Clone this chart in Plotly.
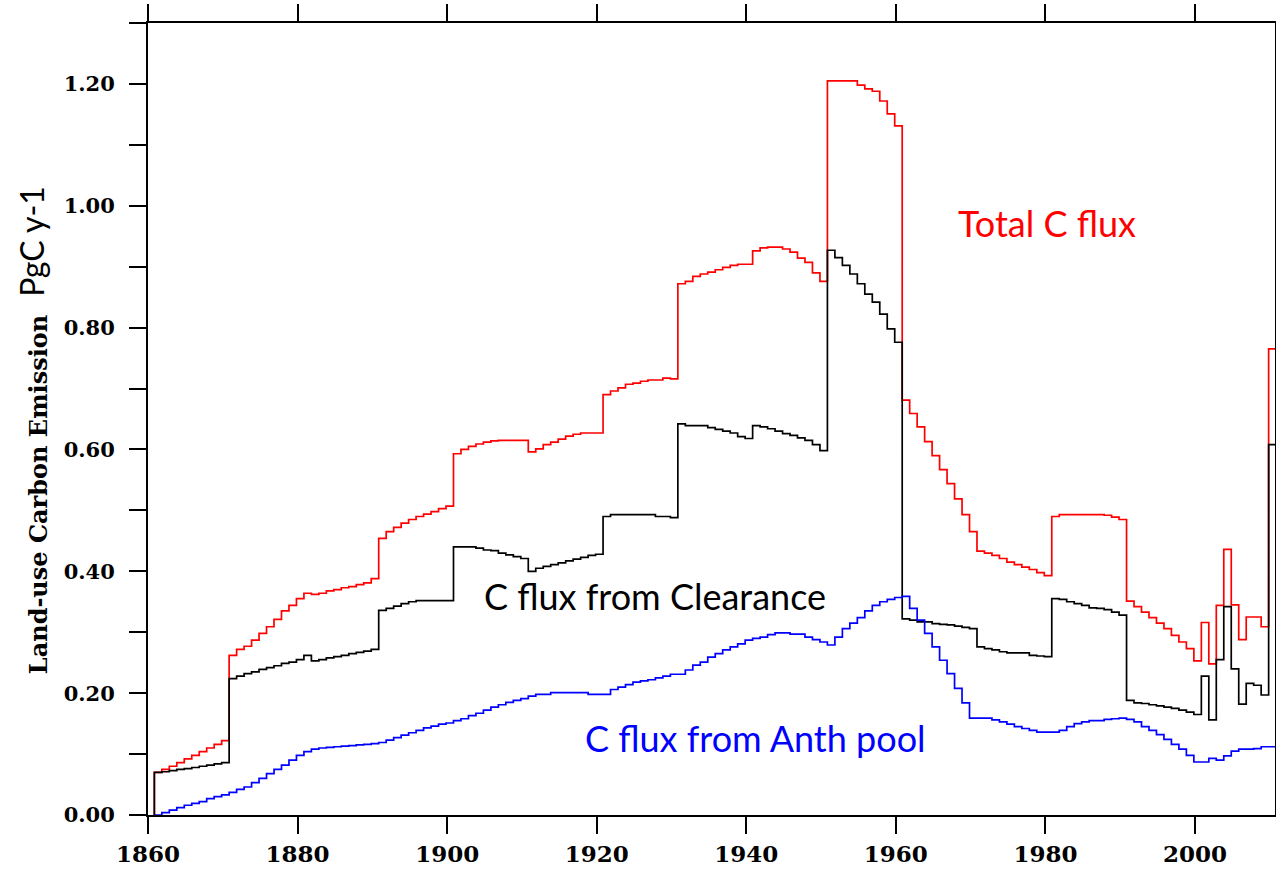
import plotly.graph_objects as go

years = list(range(1860, 2011))

total_flux = [
    0.000, 0.070, 0.075, 0.080, 0.086, 0.092, 0.098, 0.104, 0.110, 0.116,  # 1860-1869
    0.122, 0.262, 0.272, 0.277, 0.287, 0.298, 0.309, 0.321, 0.335, 0.344,  # 1870-1879
    0.355, 0.364, 0.362, 0.364, 0.368, 0.370, 0.373, 0.375, 0.378, 0.381,  # 1880-1889
    0.388, 0.454, 0.465, 0.472, 0.479, 0.485, 0.490, 0.494, 0.498, 0.503,  # 1890-1899
    0.507, 0.593, 0.600, 0.605, 0.609, 0.612, 0.614, 0.615, 0.615, 0.615,  # 1900-1909
    0.615, 0.596, 0.601, 0.608, 0.612, 0.617, 0.622, 0.625, 0.627, 0.627,  # 1910-1919
    0.627, 0.690, 0.696, 0.701, 0.707, 0.709, 0.712, 0.714, 0.714, 0.717,  # 1920-1929
    0.716, 0.872, 0.876, 0.884, 0.888, 0.891, 0.895, 0.899, 0.902, 0.904,  # 1930-1939
    0.904, 0.926, 0.931, 0.932, 0.932, 0.929, 0.924, 0.914, 0.907, 0.890,  # 1940-1949
    0.876, 1.205, 1.205, 1.205, 1.205, 1.198, 1.192, 1.188, 1.172, 1.151,  # 1950-1959
    1.131, 0.681, 0.659, 0.637, 0.613, 0.590, 0.567, 0.544, 0.519, 0.493,  # 1960-1969
    0.465, 0.433, 0.430, 0.426, 0.421, 0.415, 0.411, 0.407, 0.403, 0.398,  # 1970-1979
    0.393, 0.490, 0.493, 0.493, 0.493, 0.493, 0.493, 0.493, 0.492, 0.489,  # 1980-1989
    0.485, 0.351, 0.342, 0.333, 0.324, 0.315, 0.306, 0.295, 0.284, 0.273,  # 1990-1999
    0.253, 0.316, 0.248, 0.344, 0.436, 0.345, 0.288, 0.325, 0.325, 0.309,  # 2000-2009
    0.765,                                                                 # 2010
]

clearance_flux = [
    0.000, 0.070, 0.071, 0.073, 0.075, 0.076, 0.078, 0.080, 0.082, 0.084,  # 1860-1869
    0.086, 0.224, 0.228, 0.232, 0.235, 0.239, 0.242, 0.245, 0.249, 0.251,  # 1870-1879
    0.255, 0.262, 0.253, 0.255, 0.258, 0.260, 0.262, 0.265, 0.267, 0.269,  # 1880-1889
    0.272, 0.336, 0.339, 0.343, 0.347, 0.350, 0.352, 0.352, 0.352, 0.352,  # 1890-1899
    0.352, 0.440, 0.440, 0.440, 0.438, 0.435, 0.434, 0.430, 0.427, 0.424,  # 1900-1909
    0.421, 0.400, 0.405, 0.408, 0.411, 0.414, 0.417, 0.420, 0.423, 0.426,  # 1910-1919
    0.428, 0.490, 0.493, 0.493, 0.493, 0.493, 0.493, 0.493, 0.490, 0.490,  # 1920-1929
    0.488, 0.642, 0.639, 0.639, 0.639, 0.636, 0.633, 0.630, 0.627, 0.621,  # 1930-1939
    0.618, 0.639, 0.637, 0.634, 0.630, 0.626, 0.623, 0.619, 0.615, 0.608,  # 1940-1949
    0.598, 0.927, 0.915, 0.902, 0.888, 0.872, 0.855, 0.842, 0.822, 0.798,  # 1950-1959
    0.776, 0.322, 0.320, 0.317, 0.317, 0.314, 0.313, 0.312, 0.310, 0.308,  # 1960-1969
    0.306, 0.276, 0.273, 0.271, 0.268, 0.266, 0.266, 0.266, 0.262, 0.261,  # 1970-1979
    0.260, 0.355, 0.354, 0.350, 0.347, 0.344, 0.340, 0.339, 0.337, 0.333,  # 1980-1989
    0.328, 0.188, 0.184, 0.183, 0.181, 0.179, 0.177, 0.175, 0.172, 0.169,  # 1990-1999
    0.165, 0.228, 0.156, 0.255, 0.342, 0.240, 0.182, 0.216, 0.213, 0.197,  # 2000-2009
    0.608,                                                                 # 2010
]

anth_pool_flux = [
    0.000, 0.000, 0.004, 0.008, 0.012, 0.016, 0.019, 0.022, 0.027, 0.030,  # 1860-1869
    0.033, 0.037, 0.042, 0.046, 0.053, 0.060, 0.068, 0.075, 0.082, 0.090,  # 1870-1879
    0.098, 0.104, 0.108, 0.110, 0.111, 0.112, 0.113, 0.114, 0.115, 0.116,  # 1880-1889
    0.117, 0.119, 0.123, 0.127, 0.131, 0.135, 0.139, 0.143, 0.146, 0.149,  # 1890-1899
    0.151, 0.155, 0.158, 0.163, 0.167, 0.172, 0.177, 0.181, 0.185, 0.188,  # 1900-1909
    0.191, 0.195, 0.198, 0.198, 0.201, 0.201, 0.201, 0.201, 0.201, 0.198,  # 1910-1919
    0.198, 0.198, 0.206, 0.210, 0.214, 0.218, 0.220, 0.222, 0.225, 0.228,  # 1920-1929
    0.231, 0.231, 0.238, 0.246, 0.251, 0.259, 0.265, 0.271, 0.276, 0.281,  # 1930-1939
    0.287, 0.290, 0.292, 0.296, 0.299, 0.299, 0.297, 0.297, 0.292, 0.288,  # 1940-1949
    0.284, 0.279, 0.292, 0.306, 0.315, 0.324, 0.335, 0.344, 0.350, 0.354,  # 1950-1959
    0.357, 0.359, 0.339, 0.320, 0.298, 0.276, 0.254, 0.232, 0.208, 0.184,  # 1960-1969
    0.159, 0.159, 0.159, 0.156, 0.153, 0.149, 0.145, 0.142, 0.139, 0.136,  # 1970-1979
    0.136, 0.136, 0.139, 0.145, 0.150, 0.153, 0.155, 0.155, 0.157, 0.158,  # 1980-1989
    0.159, 0.157, 0.153, 0.145, 0.139, 0.132, 0.124, 0.116, 0.108, 0.098,  # 1990-1999
    0.087, 0.087, 0.093, 0.090, 0.097, 0.105, 0.108, 0.108, 0.109, 0.112,  # 2000-2009
    0.112,                                                                 # 2010
]

x_ticks = [1860, 1880, 1900, 1920, 1940, 1960, 1980, 2000]
y_ticks = [0.0, 0.2, 0.4, 0.6, 0.8, 1.0, 1.2]
y_ticklabels = ["0.00", "0.20", "0.40", "0.60", "0.80", "1.00", "1.20"]

# each yearly value is drawn as a step ending at year + 0.85
x_step = [y + 0.85 for y in years]

fig = go.Figure()
for vals, col in [(total_flux, "#ff0000"), (clearance_flux, "#000000"), (anth_pool_flux, "#0000ff")]:
    fig.add_trace(go.Scatter(x=x_step, y=vals, mode="lines",
                             line=dict(color=col, width=1.7, shape="vh"),
                             showlegend=False, hoverinfo="skip"))

tickfont_y = dict(family="DejaVu Serif", size=21, color="black", weight="bold")
tickfont_x = dict(family="DejaVu Serif", size=23, color="black", weight="bold")

fig.update_layout(
    width=1276, height=872,
    margin=dict(l=148, r=1, t=23, b=57, autoexpand=False),
    paper_bgcolor="white", plot_bgcolor="white",
    xaxis=dict(range=[1860, 2010.7], tickvals=x_ticks, ticks="outside", ticklen=17,
               tickwidth=1.5, tickcolor="black", showline=True, linecolor="black",
               linewidth=2, mirror="ticks", showgrid=False, zeroline=False,
               tickfont=tickfont_x, ticklabelstandoff=0, automargin=False),
    yaxis=dict(range=[0, 1.3], tickvals=y_ticks, ticktext=y_ticklabels, ticks="outside",
               ticklen=17, tickwidth=1.5, tickcolor="black", showline=True,
               linecolor="black", linewidth=2, mirror="ticks", showgrid=False,
               zeroline=False, tickfont=tickfont_y, ticklabelstandoff=10, automargin=False,
               minor=dict(dtick=0.1, ticks="outside", ticklen=17, tickwidth=1.5,
                          tickcolor="black", showgrid=False)),
)

label_font = "Lato, 'Open Sans', sans-serif"
fig.add_annotation(x=1980.2, y=0.972, xref="x", yref="y", text="Total C flux",
                   xanchor="center", yanchor="middle",
                   showarrow=False, font=dict(family=label_font, size=36, color="#ff0000"))
fig.add_annotation(x=1927.8, y=0.359, xref="x", yref="y", text="C flux from Clearance",
                   xanchor="center", yanchor="middle",
                   showarrow=False, font=dict(family=label_font, size=36, color="black"))
fig.add_annotation(x=1941.2, y=0.126, xref="x", yref="y", text="C flux from Anth pool",
                   xanchor="center", yanchor="middle",
                   showarrow=False, font=dict(family=label_font, size=36, color="#0000ff"))

fig.add_annotation(x=-0.0976, y=0.405, xref="paper", yref="paper",
                   xanchor="center", yanchor="middle",
                   text="Land-use Carbon Emission", textangle=-90, showarrow=False,
                   font=dict(family="DejaVu Serif", size=24, color="black", weight="bold"))
fig.add_annotation(x=-0.104, y=0.7247, xref="paper", yref="paper",
                   xanchor="center", yanchor="middle",
                   text="PgC y-1", textangle=-90, showarrow=False,
                   font=dict(family=label_font, size=32, color="black"))

fig.write_html("out.html")
